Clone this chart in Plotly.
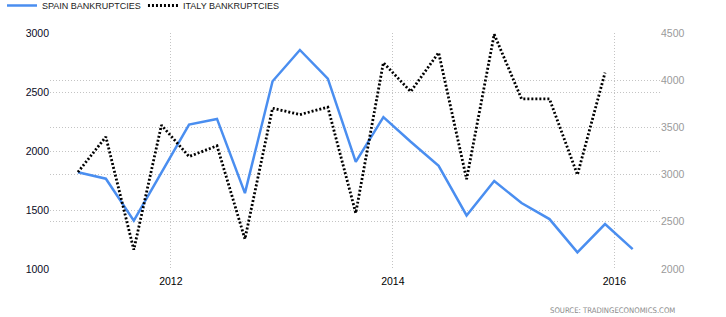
import plotly.graph_objects as go

spain_dates = ["2011-03-01","2011-06-01","2011-09-01","2011-12-01",
               "2012-03-01","2012-06-01","2012-09-01","2012-12-01",
               "2013-03-01","2013-06-01","2013-09-01","2013-12-01",
               "2014-03-01","2014-06-01","2014-09-01","2014-12-01",
               "2015-03-01","2015-06-01","2015-09-01","2015-12-01",
               "2016-03-01"]
spain_values = [1820, 1765, 1410, 1818, 2224, 2272, 1643, 2591, 2856, 2613,
                1908, 2287, 2078, 1874, 1454, 1745, 1559, 1423, 1141, 1381, 1169]

italy_dates = spain_dates[:20]
italy_values = [3026, 3400, 2204, 3524, 3191, 3305, 2317, 3703, 3636, 3714,
                2592, 4186, 3879, 4292, 2952, 4486, 3802, 3802, 2998, 4080]

x_tickvals = ["2012-01-01", "2014-01-01", "2016-01-01"]
x_ticktext = ["2012", "2014", "2016"]
left_ticks = [1000, 1500, 2000, 2500, 3000]
right_ticks = [2000, 2500, 3000, 3500, 4000, 4500]

FONT = "Liberation Sans, Arial, sans-serif"
GRID = "#c4c4c4"
GDASH = "1px,2px"

fig = go.Figure()
fig.add_trace(go.Scatter(
    x=spain_dates, y=spain_values, name="SPAIN BANKRUPTCIES", legend="legend",
    mode="lines", line=dict(color="#4a8ef0", width=2.5), yaxis="y"))
fig.add_trace(go.Scatter(
    x=italy_dates, y=italy_values, name="ITALY BANKRUPTCIES", legend="legend2",
    mode="lines", line=dict(color="#000000", width=2.8, dash="2px,2px"), yaxis="y2"))

leg_common = dict(orientation="h", y=1.178, xref="paper", yref="paper",
                  xanchor="left", yanchor="top",
                  font=dict(family=FONT, size=9, color="#222222"),
                  itemwidth=30, bgcolor="rgba(0,0,0,0)")

fig.update_layout(
    width=726, height=317,
    margin=dict(l=50, r=66, t=33, b=48, autoexpand=False),
    paper_bgcolor="white", plot_bgcolor="white",
    font=dict(family=FONT, size=10.5, color="#111111"),
    showlegend=True,
    legend=dict(x=-0.0787, **leg_common),
    legend2=dict(x=0.1524, **leg_common),
    xaxis=dict(type="date", range=["2010-11-29", "2016-05-30"],
               tickvals=x_tickvals, ticktext=x_ticktext,
               showgrid=True, gridcolor=GRID, griddash=GDASH, gridwidth=1,
               zeroline=False, showline=False, ticks="", ticklabelstandoff=4,
               tickfont=dict(family=FONT, size=10.5, color="#000000")),
    yaxis=dict(range=[1000, 3000], tickvals=left_ticks,
               showgrid=True, gridcolor=GRID, griddash=GDASH, gridwidth=1,
               zeroline=False, showline=False, ticks="",
               tickfont=dict(family=FONT, size=10.5, color="#0a0a1e")),
    yaxis2=dict(range=[2000, 4500], tickvals=right_ticks, overlaying="y", side="right",
                showgrid=True, gridcolor=GRID, griddash=GDASH, gridwidth=1,
                zeroline=False, showline=False, ticks="",
                tickfont=dict(family=FONT, size=10.5, color="#9a9a9a")),
    annotations=[dict(text="SOURCE: TRADINGECONOMICS.COM", xref="paper", yref="paper",
                      x=1.0, y=0, xanchor="right", yanchor="middle",
                      yshift=-41, xshift=17, showarrow=False,
                      font=dict(family="DejaVu Sans Condensed, Liberation Sans Narrow, sans-serif",
                                size=7.7, color="#8a8a8a"))],
)

fig.write_html("out.html")
